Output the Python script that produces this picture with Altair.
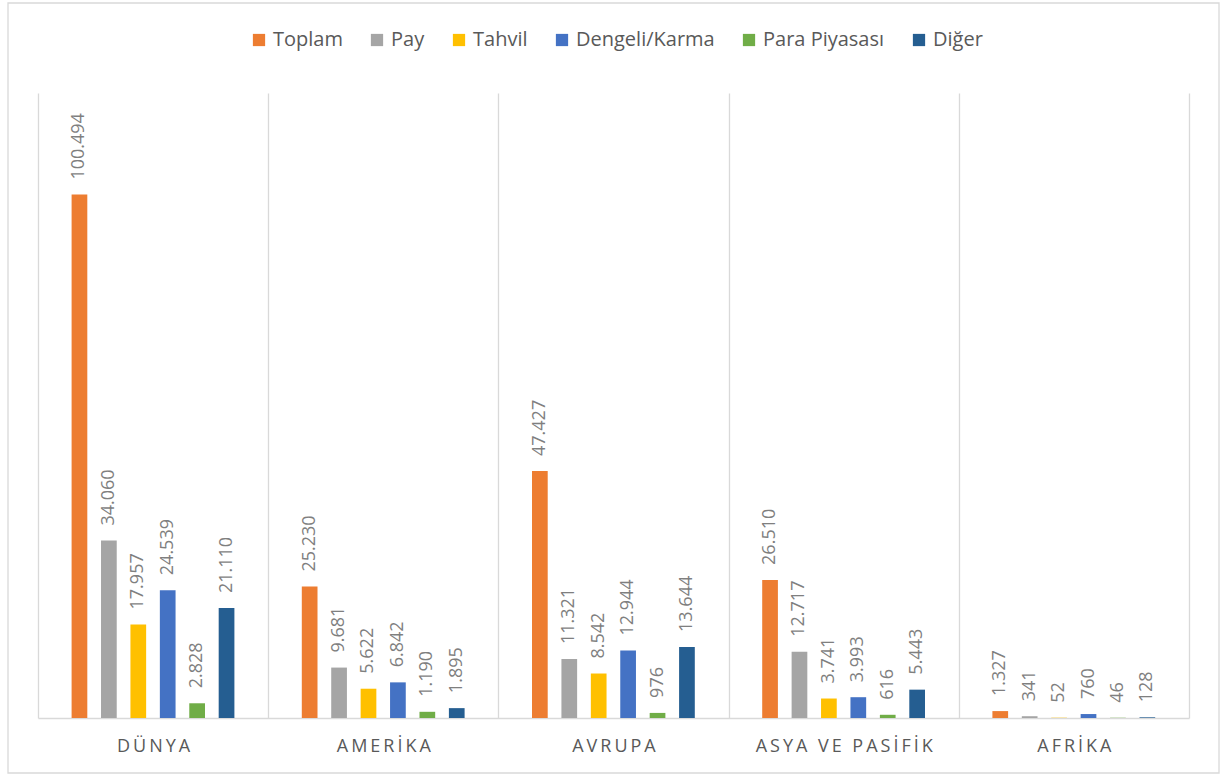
import altair as alt
import pandas as pd

# Fund assets by region and fund type
regions = ["DÜNYA", "AMERİKA", "AVRUPA", "ASYA VE PASİFİK", "AFRİKA"]
series = ["Toplam", "Pay", "Tahvil", "Dengeli/Karma", "Para Piyasası", "Diğer"]
colors = ["#ED7D31", "#A5A5A5", "#FFC000", "#4472C4", "#70AD47", "#255E91"]

toplam = [100494, 25230, 47427, 26510, 1327]
pay = [34060, 9681, 11321, 12717, 341]
tahvil = [17957, 5622, 8542, 3741, 52]
dengeli = [24539, 6842, 12944, 3993, 760]
para = [2828, 1190, 976, 616, 46]
diger = [21110, 1895, 13644, 5443, 128]

columns = [toplam, pay, tahvil, dengeli, para, diger]
rows = []
for name, vals in zip(series, columns):
    for region, v in zip(regions, vals):
        rows.append({"bolge": region, "tur": name, "deger": v})
df = pd.DataFrame(rows)

W, H = 1151, 625
FONT = "Open Sans"
GRID = "#d9d9d9"

x_enc = alt.X(
    "bolge:N",
    sort=regions,
    title=None,
    scale=alt.Scale(paddingInner=0, paddingOuter=0),
    axis=alt.Axis(
        labelAngle=0,
        labelFont=FONT,
        labelFontSize=18,
        labelColor="#595959",
        labelPadding=19,
        labelExpr="join(split(datum.label, ''), '\u2009')",
        ticks=False,
        tickSize=0,
        tickBand="extent",
        grid=True,
        gridColor=GRID,
        gridWidth=1.3,
        domainColor=GRID,
        domainWidth=1.3,
    ),
)
# bars of a group occupy the middle of each region band
xoff_enc = alt.XOffset(
    "tur:N",
    sort=series,
    scale=alt.Scale(range=[33.6, 196.4], paddingInner=0.466, paddingOuter=0),
)
y_enc = alt.Y("deger:Q", axis=None, scale=alt.Scale(domain=[0, 120000], nice=False))

base = alt.Chart(df)

bars = base.mark_bar().encode(
    x=x_enc,
    xOffset=xoff_enc,
    y=y_enc,
    color=alt.Color(
        "tur:N",
        sort=series,
        scale=alt.Scale(domain=series, range=colors),
        legend=alt.Legend(
            title=None,
            orient="none",
            direction="horizontal",
            legendX=211,
            legendY=-63,
            padding=0,
            symbolType="square",
            symbolSize=150,
            symbolStrokeWidth=0,
            symbolOpacity=1,
            labelFont=FONT,
            labelFontSize=20,
            labelColor="#595959",
            labelOffset=4,
            columnPadding=24,
        ),
    ),
)

labels = base.transform_calculate(
    etiket="replace(format(datum.deger, ','), ',', '.')"
).mark_text(
    angle=270,
    align="left",
    baseline="middle",
    dx=15,
    font=FONT,
    fontSize=18,
    color="#7f7f7f",
).encode(
    x=x_enc,
    xOffset=xoff_enc,
    y=y_enc,
    text="etiket:N",
)

# light frame around the whole figure
frame = alt.Chart(pd.DataFrame({"k": [0]})).mark_rect(
    fillOpacity=0, stroke=GRID, strokeWidth=1.3
).encode(
    x=alt.value(-30), x2=alt.value(1181), y=alt.value(-90), y2=alt.value(680)
)

chart = (
    alt.layer(frame, bars, labels)
    .properties(
        width=W,
        height=H,
        autosize=alt.AutoSizeParams(type="none"),
        padding={"left": 38, "top": 93, "right": 41, "bottom": 58},
        background="white",
    )
    .configure_view(strokeWidth=0)
)

chart.save("out.html", embed_options={"renderer": "svg", "actions": False})
